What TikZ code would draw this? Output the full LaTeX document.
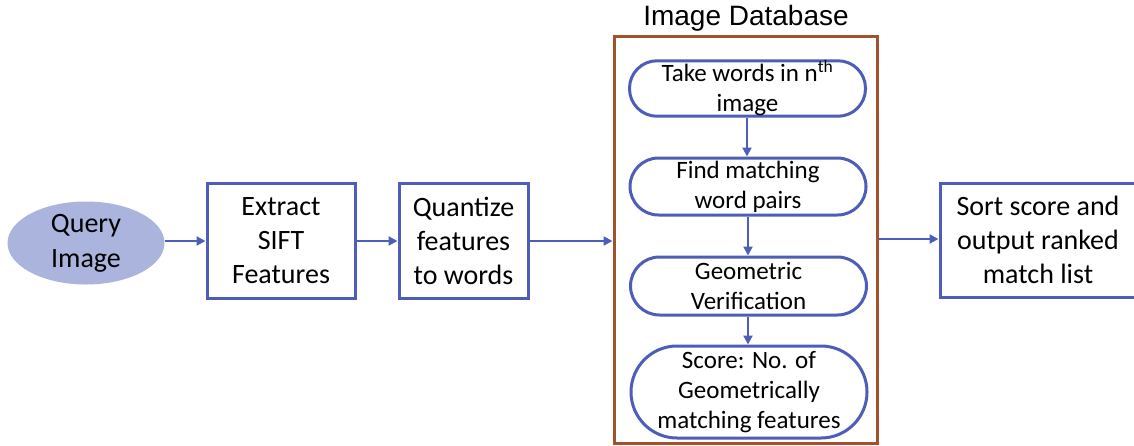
\documentclass[tikz,border=0pt]{standalone}
\usepackage{fontspec}
\setmainfont{Carlito}
\newfontfamily\titlefont{Liberation Sans}
\usetikzlibrary{arrows.meta,shapes.geometric}
\definecolor{flowblue}{HTML}{4D5DB8}
\definecolor{queryfill}{HTML}{AAB4DC}
\definecolor{dbbrown}{HTML}{A0522D}
\tikzset{
  procbox/.style={draw=flowblue, line width=3pt, fill=white, align=center,
    font=\fontsize{28}{34}\selectfont, inner sep=0pt},
  stadium/.style={draw=flowblue, line width=3pt, fill=white, align=center,
    font=\fontsize{25}{30}\selectfont, inner sep=0pt, minimum width=236pt},
  flow/.style={draw=flowblue, line width=2.8pt, -{Triangle[length=9pt,width=9pt]}}
}
\begin{document}
\begin{tikzpicture}[x=1pt,y=-1pt]
\useasboundingbox (0,0) rectangle (1134,445);

% query ellipse
\node[ellipse, fill=queryfill, minimum width=157pt, minimum height=83pt, inner sep=0pt,
  align=center, font=\fontsize{28}{35}\selectfont] (query) at (86,243) {Query\\Image};

% processing boxes
\node[procbox, minimum width=148pt, minimum height=115pt] (extract) at (281,240.5)
  {Extract\\SIFT\\Features};
\node[procbox, minimum width=129pt, minimum height=115pt] (quant) at (463.5,240.5)
  {Quantize\\features\\to words};
\node[procbox, minimum width=196pt, minimum height=114pt] (sort) at (1038,240)
  {Sort score and\\output ranked\\match list};

% database container
\node[draw=dbbrown, line width=3pt, minimum width=263pt, minimum height=407pt,
  inner sep=0pt] (db) at (745.5,239.5) {};
\node[font=\titlefont\fontsize{28}{30}\selectfont, anchor=south, inner sep=0pt] (dbtitle)
  at (746,32) {Image Database};

% steps inside the database
\node[stadium, minimum height=55pt, rounded corners=27.5pt] (take) at (747.5,88.5)
  {Take words in n\textsuperscript{th}\\image};
\node[stadium, minimum height=57pt, rounded corners=28.5pt] (match) at (748,186.5)
  {Find matching\\word pairs};
\node[stadium, minimum height=58pt, rounded corners=29pt] (geom) at (748.5,286)
  {Geometric\\Verification};
\node[stadium, minimum height=92pt, rounded corners=46pt] (score) at (749,392)
  {Score: No. of\\Geometrically\\matching features};

% connectors
\draw[flow] (query.east |- 0,241) -- (extract.west |- 0,241);
\draw[flow] (extract.east |- 0,241) -- (quant.west |- 0,241);
\draw[flow] (quant.east |- 0,241) -- (db.west |- 0,241);
\draw[flow] (db.east |- 0,239) -- (sort.west |- 0,239);
\draw[flow] (take.south -| 747,0) -- (match.north -| 747,0);
\draw[flow] (match.south -| 748,0) -- (geom.north -| 748,0);
\draw[flow] (geom.south -| 748,0) -- (score.north -| 748,0);
\end{tikzpicture}
\end{document}
